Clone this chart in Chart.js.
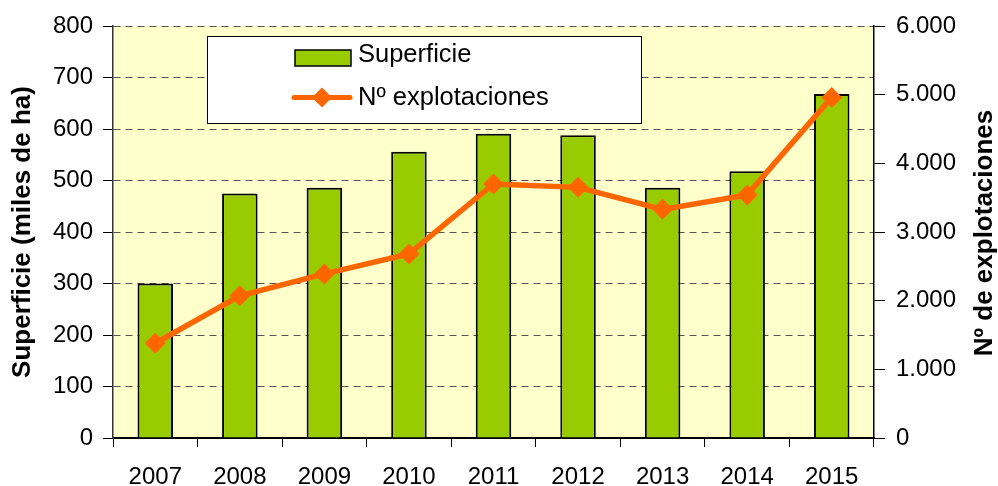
<!DOCTYPE html>
<html>
<head>
<meta charset="utf-8">
<script src="https://cdn.jsdelivr.net/npm/chart.js@4.4.1/dist/chart.umd.min.js"></script>
<style>
  html, body { margin: 0; padding: 0; background: #ffffff; }
  #wrap { width: 998px; height: 486px; }
</style>
</head>
<body>
<div id="wrap"><canvas id="c" width="998" height="486"></canvas></div>
<script>
const categories = ['2007', '2008', '2009', '2010', '2011', '2012', '2013', '2014', '2015'];
const superficie = [300, 475, 486, 556, 591, 588, 486, 518, 668];
const explotaciones = [1380, 2070, 2390, 2680, 3700, 3650, 3330, 3540, 4960];
const leftTicks = [0, 100, 200, 300, 400, 500, 600, 700, 800];
const rightTicks = [0, 1000, 2000, 3000, 4000, 5000, 6000];
const seriesNames = ['Superficie', 'Nº explotaciones'];
const leftTitle = 'Superficie (miles de ha)';
const rightTitle = 'Nº de explotaciones';

const FONT = "'Liberation Sans', Arial, sans-serif";
const GREEN = '#99CC00';
const ORANGE = '#FF6600';

function fmt(v) { return String(v).replace(/\B(?=(\d{3})+(?!\d))/g, '.'); }

const bgPlugin = {
  id: 'plotBg',
  beforeDraw(chart) {
    const a = chart.chartArea, ctx = chart.ctx;
    ctx.save();
    ctx.fillStyle = '#FFFFCC';
    ctx.fillRect(a.left, a.top, a.right - a.left, a.bottom - a.top);
    ctx.restore();
  }
};

const overlayPlugin = {
  id: 'overlay',
  afterDraw(chart) {
    const ctx = chart.ctx;
    const barDs = chart.data.datasets.find(d => d.type === 'bar');
    const lineDs = chart.data.datasets.find(d => d.type === 'line');
    ctx.save();
    // legend box
    const bx = 207.5, by = 36.5, bw = 434, bh = 87;
    ctx.fillStyle = '#ffffff';
    ctx.fillRect(bx, by, bw, bh);
    ctx.strokeStyle = '#000000';
    ctx.lineWidth = 1;
    ctx.strokeRect(bx, by, bw, bh);
    // row 1: bar swatch
    ctx.fillStyle = barDs.backgroundColor;
    ctx.fillRect(295, 50, 56, 16);
    ctx.lineWidth = 1.5;
    ctx.strokeStyle = '#000';
    ctx.strokeRect(295, 50, 56, 16);
    ctx.fillStyle = '#000';
    ctx.font = '25.5px ' + FONT;
    ctx.textBaseline = 'middle';
    ctx.textAlign = 'left';
    ctx.fillText(barDs.label, 358, 55);
    // row 2: line + diamond
    ctx.strokeStyle = lineDs.borderColor;
    ctx.lineWidth = 5;
    ctx.lineCap = 'round';
    ctx.beginPath();
    ctx.moveTo(294, 97.5); ctx.lineTo(350, 97.5);
    ctx.stroke();
    ctx.fillStyle = lineDs.pointBackgroundColor;
    ctx.beginPath();
    ctx.moveTo(322, 87.5); ctx.lineTo(332, 97.5); ctx.lineTo(322, 107.5); ctx.lineTo(312, 97.5);
    ctx.closePath(); ctx.fill();
    ctx.fillStyle = '#000';
    ctx.fillText(lineDs.label, 358, 98);
    // right axis title
    ctx.translate(985, 233);
    ctx.rotate(-Math.PI / 2);
    ctx.textAlign = 'center';
    ctx.font = 'bold 26px ' + FONT;
    ctx.fillText(rightTitle, 0, 0);
    ctx.restore();
  }
};

new Chart(document.getElementById('c'), {
  type: 'bar',
  data: {
    labels: categories,
    datasets: [
      {
        type: 'line',
        label: seriesNames[1],
        data: explotaciones,
        yAxisID: 'y1',
        borderColor: ORANGE,
        backgroundColor: ORANGE,
        borderWidth: 5.5,
        pointStyle: 'rectRot',
        pointRadius: 10.5,
        pointBackgroundColor: ORANGE,
        pointBorderColor: ORANGE,
        pointBorderWidth: 0,
        tension: 0,
        order: 0
      },
      {
        type: 'bar',
        label: seriesNames[0],
        data: superficie,
        yAxisID: 'y',
        backgroundColor: GREEN,
        borderColor: '#000000',
        borderWidth: 2,
        barPercentage: 0.42,
        categoryPercentage: 1.0,
        order: 1
      }
    ]
  },
  options: {
    responsive: false,
    animation: false,
    devicePixelRatio: 1,
    layout: { padding: { top: 26, left: 0, right: 0, bottom: 0 } },
    plugins: { legend: { display: false }, tooltip: { enabled: false } },
    scales: {
      x: {
        offset: true,
        grid: { offset: true, drawOnChartArea: false, tickLength: 9, tickColor: '#000', tickWidth: 1 },
        border: { color: '#000', width: 2 },
        ticks: { font: { family: FONT, size: 24 }, color: '#000', padding: 16, maxRotation: 0 },
        afterFit(s) { s.height = 48; }
      },
      y: {
        position: 'left',
        min: 0, max: 800,
        afterBuildTicks(s) { s.ticks = leftTicks.map(v => ({ value: v })); },
        grid: { color: '#555555', borderDash: [7, 5], lineWidth: 1, tickLength: 10, tickColor: '#000', tickBorderDash: [], tickWidth: 1 },
        border: { color: '#333', width: 1.5, dash: [7, 5] },
        ticks: { font: { family: FONT, size: 24 }, color: '#000', padding: 10 },
        title: { display: true, text: leftTitle, font: { family: FONT, size: 26, weight: 'bold' }, color: '#000', padding: { top: 7, bottom: 0 } },
        afterFit(s) { s.width = 113; }
      },
      y1: {
        position: 'right',
        min: 0, max: 6000,
        afterBuildTicks(s) { s.ticks = rightTicks.map(v => ({ value: v })); },
        grid: { drawOnChartArea: false, tickLength: 11, tickColor: '#000', tickWidth: 1 },
        border: { color: '#000', width: 1.5 },
        ticks: { font: { family: FONT, size: 24 }, color: '#000', padding: 11, callback: v => fmt(v) },
        afterFit(s) { s.width = 124; }
      }
    }
  },
  plugins: [bgPlugin, overlayPlugin]
});
</script>
</body>
</html>
